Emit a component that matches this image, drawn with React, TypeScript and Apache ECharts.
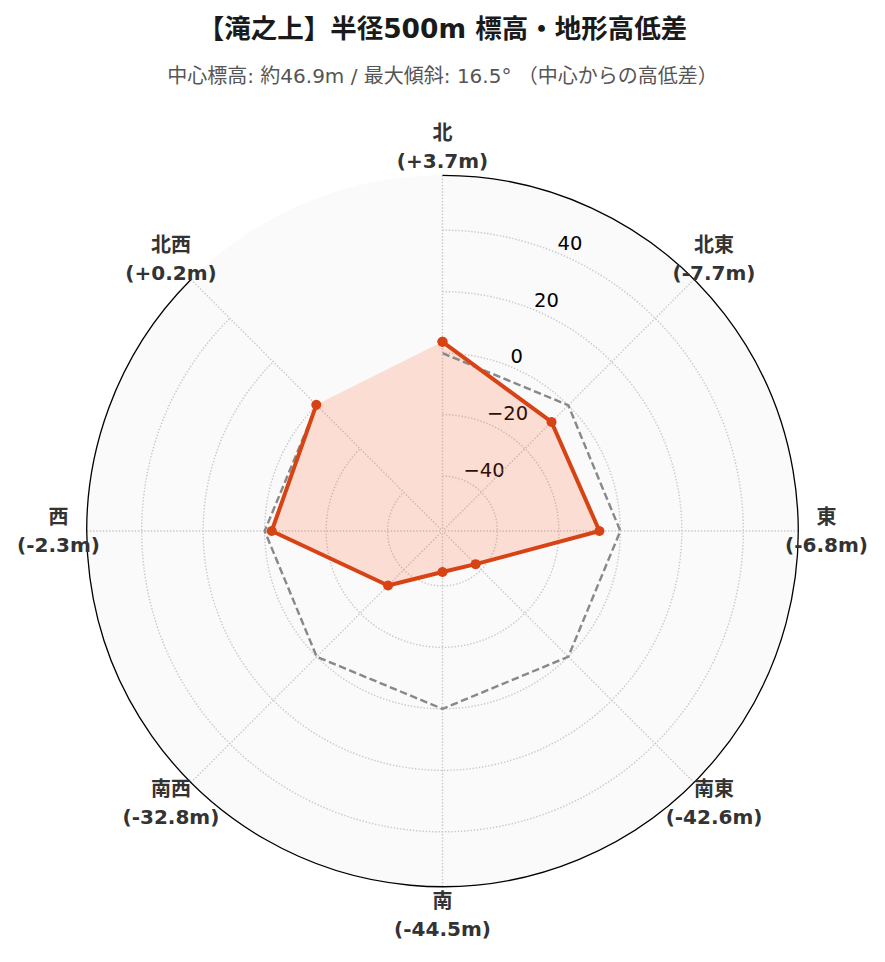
import { useEffect, useRef } from "react";
import * as echarts from "echarts";

const DIRECTIONS = ["北", "北東", "東", "南東", "南", "南西", "西", "北西"];
const ELEVATION_DIFF = [3.7, -7.7, -6.8, -42.6, -44.5, -32.8, -2.3, 0.2];
const REFERENCE_LEVEL = [0, 0, 0, 0, 0, 0, 0, 0];
const R_TICKS = [-40, -20, 0, 20, 40];
const R_LIMIT = 57.85;

const TITLE = "【滝之上】半径500m 標高・地形高低差";
const SUBTITLE = "中心標高: 約46.9m / 最大傾斜: 16.5° （中心からの高低差）";

const FONT = "'DejaVu Sans', 'Noto Sans CJK JP', sans-serif";
const GRID = "#c8c8c8";
const RED = "#d84315";

// close the polygon by repeating the first direction
function closed(values: number[]) {
  return [...values, values[0]].map((v, i) => [v, i % values.length]);
}

function fmtDiff(v: number) {
  return v >= 0 ? `+${v.toFixed(1)}m` : `${v.toFixed(1)}m`;
}

export default function App() {
  const chartRef = useRef<HTMLDivElement>(null);

  useEffect(() => {
    document.body.style.margin = "0";
    if (!chartRef.current) return;
    const chart = echarts.init(chartRef.current, undefined, { renderer: "svg" });

    // ticks: -R_LIMIT, -40 .. 40, R_LIMIT -> hide the two end circles
    const splitColors = ["transparent", ...R_TICKS.map(() => GRID), "transparent"];

    chart.setOption({
      animation: false,
      title: [
        {
          text: TITLE,
          left: "center",
          top: 8,
          textStyle: { fontSize: 26.5, fontWeight: "bold", color: "#1a1a1a", fontFamily: FONT, lineHeight: 30 },
        },
        {
          text: SUBTITLE,
          left: "center",
          top: 59,
          textStyle: { fontSize: 20, fontWeight: "normal", color: "#555", fontFamily: FONT, lineHeight: 24 },
        },
      ],
      polar: [
        { center: ["50%", 531], radius: 355.7 },
        { center: ["50%", 531], radius: 355.7 },
        { center: ["50%", 531], radius: 384 },
      ],
      angleAxis: [
        {
          polarIndex: 0,
          type: "category",
          data: DIRECTIONS,
          boundaryGap: false,
          startAngle: 90,
          clockwise: true,
          z: 1,
          axisLine: { show: true, lineStyle: { color: "#000", width: 1.3 } },
          axisTick: { show: false },
          axisLabel: { show: false },
          splitLine: { show: true, lineStyle: { color: GRID, width: 1.4, type: [1.4, 1.8] } },
        },
        { polarIndex: 1, type: "value", min: 0, max: 360, startAngle: 67.5, show: false },
        { polarIndex: 2, type: "category", data: DIRECTIONS, boundaryGap: false, startAngle: 90, show: false },
      ],
      radiusAxis: [
        {
          polarIndex: 0,
          type: "value",
          min: -R_LIMIT,
          max: R_LIMIT,
          z: 1,
          axisLine: { show: false },
          axisTick: { show: false },
          axisLabel: { show: false },
          splitLine: { show: true, lineStyle: { color: splitColors, width: 1.4, type: [1.4, 1.8] } },
        },
        {
          // full-circle polar: background rings and the radial tick labels at 22.5°
          polarIndex: 1,
          type: "value",
          min: -R_LIMIT,
          max: R_LIMIT,
          z: 0,
          axisLine: { show: false },
          axisTick: { show: false },
          splitLine: { show: false },
          splitArea: { show: true, areaStyle: { color: ["#fafafa"] } },
          axisLabel: {
            showMinLabel: false,
            showMaxLabel: false,
            margin: 0,
            align: "left",
            verticalAlign: "bottom",
            fontSize: 19.5,
            color: "#000",
            fontFamily: FONT,
            formatter: (v: number) => {
              const t = R_TICKS.find((x) => Math.abs(x - v) < 1e-6);
              if (t === undefined) return "";
              return t < 0 ? `\u2212${Math.abs(t)}` : String(t);
            },
          },
        },
        { polarIndex: 2, type: "value", min: 0, max: 1, show: false },
      ],
      series: [
        {
          name: "fill",
          type: "custom",
          coordinateSystem: "polar",
          polarIndex: 0,
          silent: true,
          clip: false,
          z: 2,
          data: ELEVATION_DIFF.map((v, i) => [v, i]),
          renderItem: (params: { dataIndex: number }, api: any) => {
            if (params.dataIndex !== 0) return null;
            const points = ELEVATION_DIFF.map((v, i) => api.coord([v, i]));
            return {
              type: "polygon",
              shape: { points },
              style: { fill: "rgba(255,87,34,0.18)", stroke: "none" },
            };
          },
        },
        {
          name: "中心標高",
          type: "line",
          coordinateSystem: "polar",
          polarIndex: 0,
          clip: false,
          data: closed(REFERENCE_LEVEL),
          symbol: "none",
          z: 3,
          lineStyle: { color: "#888", width: 2.4, type: [7.5, 3.5] },
        },
        {
          name: "高低差",
          type: "line",
          coordinateSystem: "polar",
          polarIndex: 0,
          clip: false,
          data: closed(ELEVATION_DIFF),
          symbol: "circle",
          symbolSize: 10,
          z: 4,
          itemStyle: { color: RED },
          lineStyle: { color: RED, width: 4 },
        },
        {
          name: "labels",
          type: "scatter",
          coordinateSystem: "polar",
          polarIndex: 2,
          clip: false,
          silent: true,
          z: 5,
          symbolSize: 1,
          itemStyle: { color: "transparent", opacity: 1 },
          data: DIRECTIONS.map((d, i) => ({ name: d, value: [1, i] })),
          label: {
            show: true,
            position: "inside",
            formatter: (p: { dataIndex: number }) =>
              `${DIRECTIONS[p.dataIndex]}\n(${fmtDiff(ELEVATION_DIFF[p.dataIndex])})`,
            fontSize: 20,
            fontWeight: "bold",
            color: "#333",
            lineHeight: 28,
            fontFamily: FONT,
          },
        },
      ],
    });

    return () => chart.dispose();
  }, []);

  return <div ref={chartRef} style={{ width: "885px", height: "962px" }} />;
}
